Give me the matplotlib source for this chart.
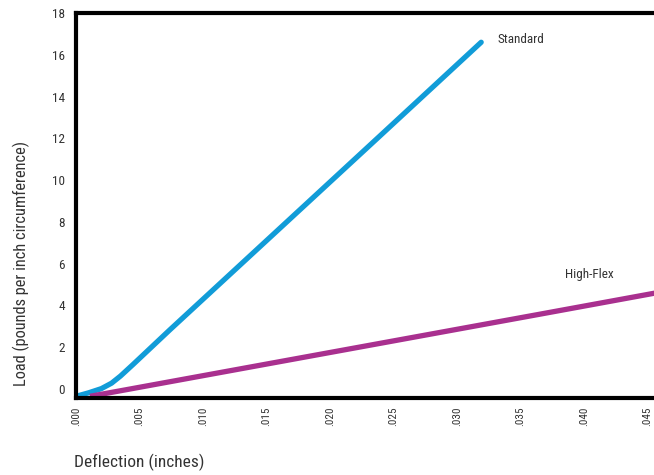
import matplotlib
matplotlib.use('Agg')
import matplotlib.pyplot as plt
from matplotlib import font_manager
from matplotlib.ticker import FuncFormatter

# pick a narrow font if one is around, else condensed Roboto
names = set(f.name for f in font_manager.fontManager.ttflist)
narrow = None
for cand in ['Liberation Sans Narrow', 'DejaVu Sans Condensed', 'Roboto Condensed',
             'Open Sans Condensed', 'Noto Sans Condensed', 'Arial Narrow']:
    if cand in names:
        narrow = cand
        break
plt.rcParams['font.family'] = [narrow or 'Roboto', 'DejaVu Sans']
if narrow is None:
    plt.rcParams['font.stretch'] = 'condensed'

# Data
std_x = [0.0, 0.0010, 0.0020, 0.0028, 0.0035, 0.0045, 0.0074, 0.0239, 0.0319]
std_y = [-0.35, -0.18, 0.02, 0.28, 0.62, 1.18, 2.84, 12.1, 16.6]
flex_x = [0.0011, 0.0137, 0.0365, 0.0470]
flex_y = [-0.35, 1.05, 3.58, 4.75]
x_ticks = [0.000, 0.005, 0.010, 0.015, 0.020, 0.025, 0.030, 0.035, 0.040, 0.045]
y_ticks = [0, 2, 4, 6, 8, 10, 12, 14, 16, 18]

fig = plt.figure(figsize=(6.54, 4.75), dpi=100)
ax = fig.add_axes([76/654, 77/475, 597/654, 385/475])

ax.plot(std_x, std_y, color='#119cd8', lw=3.8, solid_capstyle='round', solid_joinstyle='round')
ax.plot(flex_x, flex_y, color='#a9308f', lw=3.8, solid_capstyle='butt')

ax.set_xlim(0, 0.047)
ax.set_ylim(-0.43, 18)
ax.set_xticks(x_ticks)
ax.set_yticks(y_ticks)
ax.xaxis.set_major_formatter(FuncFormatter(lambda v, p: ('%.3f' % v)[1:]))
ax.tick_params(axis='both', length=0, colors='#333333')
ax.tick_params(axis='x', labelsize=8, labelrotation=90, pad=6)
ax.tick_params(axis='y', labelsize=9.5, pad=8)
for lab in ax.get_xticklabels():
    lab.set_verticalalignment('top')

for s in ax.spines.values():
    s.set_linewidth(3)
    s.set_color('black')

ax.text(0.0332, 16.75, 'Standard', fontsize=9.5, color='#333333', ha='left', va='center')
ax.text(0.0385, 5.5, 'High-Flex', fontsize=9.5, color='#333333', ha='left', va='center')

fig.text(21/654, 1 - 263/475, 'Load (pounds per inch circumference)', rotation=90,
         fontsize=11.8, color='#333333', ha='center', va='center')
fig.text(74/654, 1 - 462/475, 'Deflection (inches)', fontsize=12.5, color='#333333',
         ha='left', va='center')

fig.savefig('out.png', dpi=100)
